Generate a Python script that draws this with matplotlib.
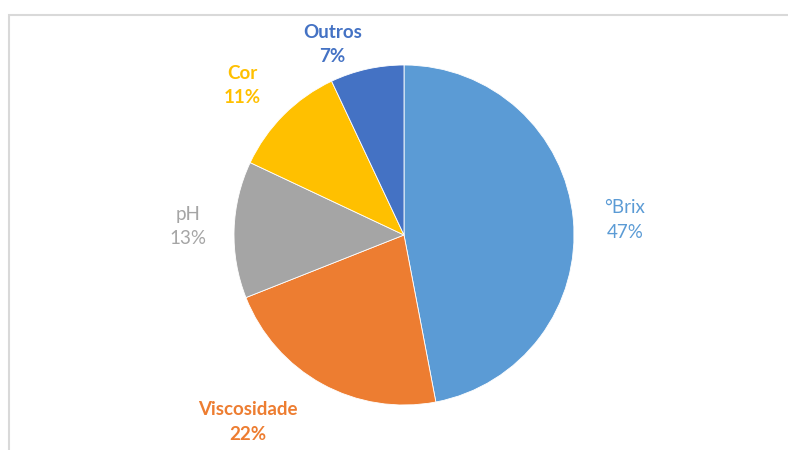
import matplotlib.pyplot as plt
from matplotlib.patches import Rectangle

# dados
categorias = ['°Brix', 'Viscosidade', 'pH', 'Cor', 'Outros']
valores = [47, 22, 13, 11, 7]
cores = ['#5B9BD5', '#ED7D31', '#A5A5A5', '#FFC000', '#4472C4']
cores_texto = ['#5B9BD5', '#ED7D31', '#A5A5A5', '#FFC000', '#4472C4']
negrito = ['normal', 'bold', 'normal', 'bold', 'bold']

# posição dos rótulos (unidades do raio)
pos_rotulos = [(1.30, 0.09), (-0.92, -1.10), (-1.27, 0.05), (-0.95, 0.88), (-0.42, 1.12)]

fig = plt.figure(figsize=(7.88, 4.5), dpi=100)
fig.patches.append(Rectangle((9 / 788, -0.1), 1.2, 1.1 - 15 / 450, transform=fig.transFigure,
                             fill=False, edgecolor='#D9D9D9', lw=1.5))

cx, cy, r = 404, 235, 170
ax = fig.add_axes([(cx - r) / 788, (450 - cy - r) / 450, 2 * r / 788, 2 * r / 450])
ax.pie(valores, colors=cores, startangle=90, counterclock=False, radius=1,
       wedgeprops=dict(edgecolor='white', linewidth=0.6))
ax.set_xlim(-1, 1)
ax.set_ylim(-1, 1)
ax.set_aspect('auto')
ax.axis('off')

for nome, v, c, w, (x, y) in zip(categorias, valores, cores_texto, negrito, pos_rotulos):
    ax.text(x, y, f'{nome}\n{v}%', ha='center', va='center', color=c,
            fontsize=13.5, fontweight=w, family=['Lato', 'DejaVu Sans'],
            linespacing=1.55)

fig.savefig('out.png', dpi=100)
